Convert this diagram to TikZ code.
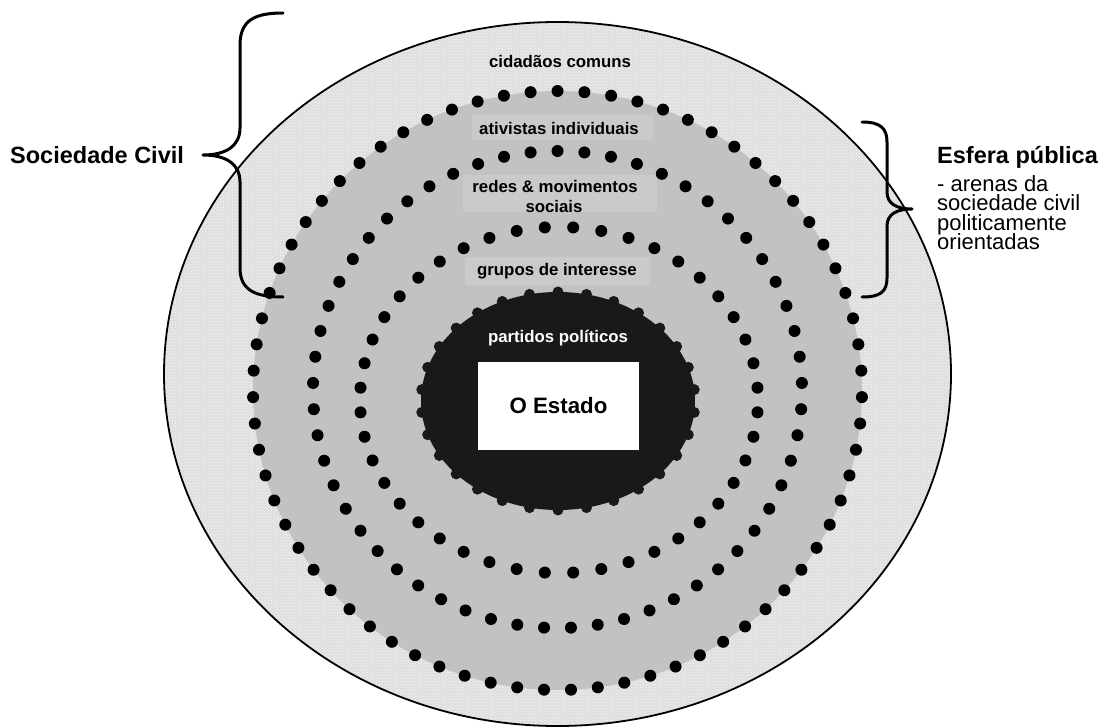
\documentclass[tikz,border=0pt]{standalone}
\usepackage{fontspec}
\setmainfont{Liberation Sans}
\usetikzlibrary{patterns}
\definecolor{ringgray}{RGB}{193,194,196}
\definecolor{stipple}{RGB}{222,222,222}
\definecolor{boxgray}{RGB}{201,202,204}
\definecolor{blobblack}{RGB}{26,24,25}
\newcommand\tightlinesx{\lineskiplimit=-20pt\relax\lineskip=0pt\relax}
\begin{document}
\begin{tikzpicture}[x=1pt,y=-1pt,
  ringlab/.style={font=\fontsize{16.8}{18}\selectfont\bfseries, inner sep=0pt},
  bigbold/.style={font=\fontsize{23.5}{26}\selectfont\bfseries, inner sep=0pt},
  subtext/.style={font=\fontsize{22}{19.6}\selectfont\tightlinesx, inner sep=0pt},
  bracepath/.style={line width=3pt, line cap=round, line join=round}]
\useasboundingbox (0,0) rectangle (1114,728);
% outer stippled ellipse
\fill[stipple] (557.5,374) ellipse [x radius=393.5, y radius=352];
\fill[pattern=crosshatch dots, pattern color=white!80!stipple] (557.5,374) ellipse [x radius=393.5, y radius=352];
\draw[line width=1.8pt] (557.5,374) ellipse [x radius=393.5, y radius=352];
% gray interior
\fill[ringgray] (557.5,390.5) ellipse [x radius=304.5, y radius=299.5];
% label boxes
\fill[boxgray] (472,115) rectangle (653,140);
\fill[boxgray] (463,175) rectangle (657,212);
\fill[boxgray] (465,257) rectangle (650,285);
% dotted rings
\foreach \k in {0,...,70} {
  \fill ({557.5+304.5*cos((360/71)*\k-90)},{390.5+299.5*sin((360/71)*\k-90)}) circle[radius=6];
}
\foreach \k in {0,...,56} {
  \fill ({557.5+244.5*cos((360/57)*\k-90)},{389.5+238.5*sin((360/57)*\k-90)}) circle[radius=6];
}
\foreach \k in {0,...,43} {
  \fill ({559+199*cos((360/44)*(\k+0.5)-90)},{400+173*sin((360/44)*(\k+0.5)-90)}) circle[radius=6];
}
% black blob with bumps
\fill[blobblack] (558,401) ellipse [x radius=137, y radius=109];
\foreach \k in {0,...,29} {
  \fill[blobblack] ({558+137*cos(12*\k-90)},{401+109*sin(12*\k-90)}) circle[radius=5.5];
}
% state box
\node[fill=white, minimum width=161pt, minimum height=88pt, inner sep=0pt,
      font=\fontsize{22.3}{24}\selectfont\bfseries] (estado) at (558.5,406) {O Estado};
% ring labels
\node[ringlab, anchor=base] (cidadaos) at (560,67) {cidadãos comuns};
\node[ringlab, anchor=base] (ativistas) at (559,134) {ativistas individuais};
\node[ringlab, anchor=base] (redes) at (555,192) {redes \& movimentos};
\node[ringlab, anchor=base] (sociais) at (554,212) {sociais};
\node[ringlab, anchor=base] (grupos) at (557,275) {grupos de interesse};
\node[ringlab, anchor=base, text=white] (partidos) at (558,342) {partidos políticos};
% side labels
\node[bigbold, anchor=base west] (sociedade) at (10,163) {Sociedade Civil};
\node[bigbold, anchor=base west] (esfera) at (937,163) {Esfera pública};
\node[subtext, anchor=north west, align=left] (esfsub) at (937,175)
  {- arenas da\\sociedade civil\\politicamente\\orientadas};
% braces
\coordinate (lbtop) at (283,13);
\coordinate (lbmid) at (203,155);
\coordinate (lbbot) at (283,297);
\draw[bracepath] (lbtop) .. controls (255,13) and (240,20) .. (240,45) -- (240,128)
  .. controls (240,146) and (226,155) .. (lbmid)
  .. controls (226,155) and (240,164) .. (240,182) -- (240,268)
  .. controls (240,290) and (255,297) .. (lbbot);
\coordinate (rbtop) at (862,122);
\coordinate (rbmid) at (912,209);
\coordinate (rbbot) at (862,297);
\draw[bracepath] (rbtop) .. controls (880,122) and (887,128) .. (887,142) -- (887,192)
  .. controls (887,204) and (897,209) .. (rbmid)
  .. controls (897,209) and (887,214) .. (887,226) -- (887,278)
  .. controls (887,292) and (880,297) .. (rbbot);
\end{tikzpicture}
\end{document}
